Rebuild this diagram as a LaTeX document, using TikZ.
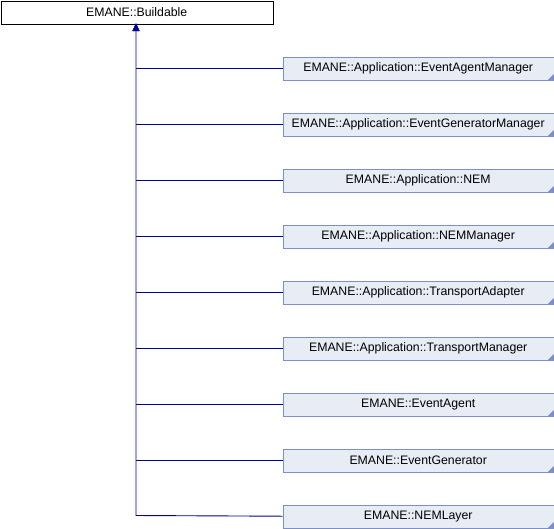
\documentclass[tikz,border=0pt]{standalone}
\usepackage{fontspec}
\setmainfont{Liberation Sans}
\usetikzlibrary{arrows.meta}
\definecolor{boxfill}{HTML}{E8ECF5}
\definecolor{boxline}{HTML}{7B8FC8}
\definecolor{edge}{HTML}{000099}
\tikzset{
  base/.style={draw=black, fill=white, minimum width=272pt, minimum height=23pt, inner sep=0pt, font=\fontsize{12.3}{14}\selectfont, anchor=north west},
  child/.style={draw=boxline, fill=boxfill, minimum width=271pt, minimum height=23pt, inner sep=0pt, font=\fontsize{12.3}{14}\selectfont, anchor=north west},
  conn/.style={draw=edge, line width=0.9pt},
}
\begin{document}
\begin{tikzpicture}[x=1pt,y=-1pt]
\useasboundingbox (0,0) rectangle (554,528);
\node[base] (b) at (0.5,0.5) {EMANE::Buildable};
\foreach \name/\txt [count=\i from 0] in {
 c1/EMANE::Application::EventAgentManager,
 c2/EMANE::Application::EventGeneratorManager,
 c3/EMANE::Application::NEM,
 c4/EMANE::Application::NEMManager,
 c5/EMANE::Application::TransportAdapter,
 c6/EMANE::Application::TransportManager,
 c7/EMANE::EventAgent,
 c8/EMANE::EventGenerator,
 c9/EMANE::NEMLayer}{
  \node[child] (\name) at (282.5,{56.5+56*\i}) {\txt};
  \fill[boxline] (\name.south east) -- ++(0,-6) -- ++(-6,6) -- cycle;
}
\coordinate (j) at (136,515.5);
\draw[conn] (c9.west) -- (j) -- (b.south -| j);
\draw[edge, fill=edge] (136,23.5) -- (132.5,31) -- (139.5,31) -- cycle;
\foreach \n in {c1,c2,c3,c4,c5,c6,c7,c8}{
  \draw[conn] (\n.west) -- (\n.west -| j);
}
\end{tikzpicture}
\end{document}
